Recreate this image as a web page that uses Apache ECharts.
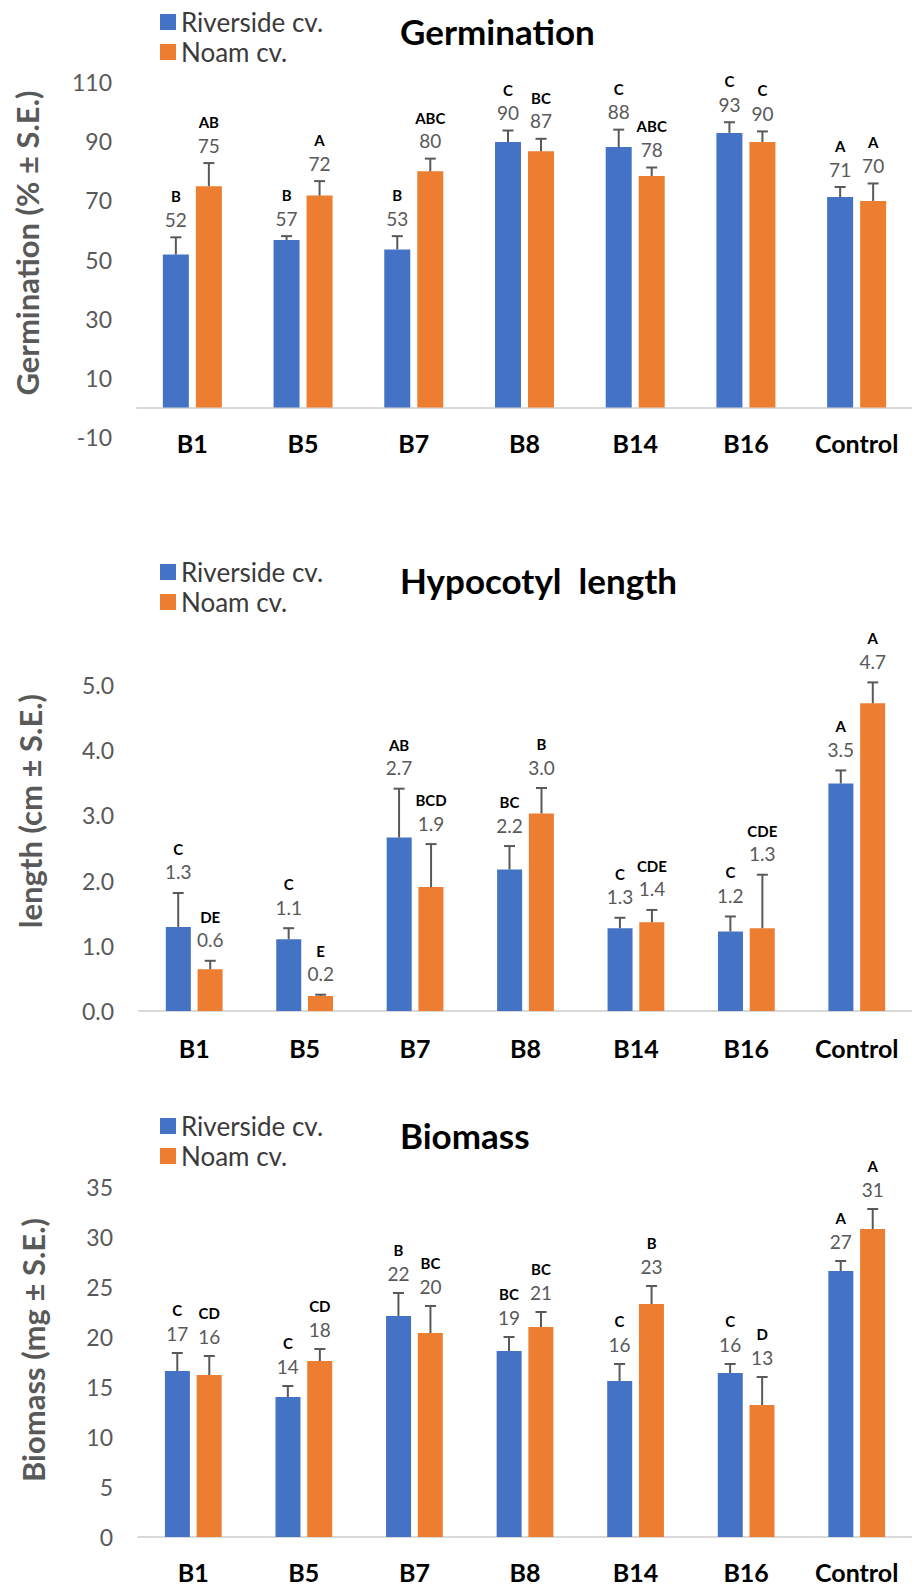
<!DOCTYPE html>
<html>
<head>
<meta charset="utf-8">
<script src="https://cdn.jsdelivr.net/npm/echarts@6/dist/echarts.min.js"></script>
<style>
html,body{margin:0;padding:0;background:#fff;}
#main{width:912px;height:1585px;}
</style>
</head>
<body>
<div id="main"></div>
<script>
// ---- data ----
var categories = ['B1','B5','B7','B8','B14','B16','Control'];
var seriesNames = ['Riverside cv.','Noam cv.'];

// Germination (%)
var germRiverside = [51.7, 56.6, 53.4, 89.7, 88.0, 92.8, 71.1];
var germNoam      = [74.8, 71.6, 79.8, 86.6, 78.2, 89.7, 69.8];
var germRiversideSE = [5.8, 1.3, 4.5, 3.9, 5.9, 3.6, 3.4];
var germNoamSE      = [7.8, 4.9, 4.3, 4.2, 2.9, 3.6, 5.9];
var germRiversideLetters = ['B','B','B','C','C','C','A'];
var germNoamLetters      = ['AB','A','ABC','BC','ABC','C','A'];
var germTicks = [-10, 10, 30, 50, 70, 90, 110];

// Hypocotyl length (cm)
var hypoRiverside = [1.29, 1.10, 2.66, 2.17, 1.27, 1.22, 3.49];
var hypoNoam      = [0.64, 0.23, 1.90, 3.03, 1.36, 1.27, 4.72];
var hypoRiversideSE = [0.52, 0.17, 0.75, 0.36, 0.16, 0.23, 0.20];
var hypoNoamSE      = [0.13, 0.02, 0.66, 0.39, 0.19, 0.82, 0.32];
var hypoRiversideLetters = ['C','C','AB','BC','C','C','A'];
var hypoNoamLetters      = ['DE','E','BCD','B','CDE','CDE','A'];
var hypoTicks = [0, 1, 2, 3, 4, 5];

// Biomass (mg)
var bioRiverside = [16.6, 14.0, 22.1, 18.6, 15.6, 16.4, 26.6];
var bioNoam      = [16.2, 17.6, 20.4, 21.0, 23.3, 13.2, 30.8];
var bioRiversideSE = [1.8, 1.1, 2.3, 1.4, 1.7, 0.9, 1.0];
var bioNoamSE      = [1.9, 1.2, 2.7, 1.5, 1.8, 2.8, 2.0];
var bioRiversideLetters = ['C','C','B','BC','C','C','A'];
var bioNoamLetters      = ['CD','CD','BC','BC','B','D','A'];
var bioTicks = [0, 5, 10, 15, 20, 25, 30, 35];

var titles = ['Germination', 'Hypocotyl  length', 'Biomass'];
var yNames = ['Germination (% \u00B1 S.E.)', 'length (cm \u00B1 S.E.)', 'Biomass (mg \u00B1 S.E.)'];

// ---- style ----
var FONT = 'Lato, "Open Sans", sans-serif';
var BLUE = '#4472C4', ORANGE = '#ED7D31';
var GRAY = '#595959';

var charts = [
  {r: germRiverside, n: germNoam, rse: germRiversideSE, nse: germNoamSE, rl: germRiversideLetters, nl: germNoamLetters, ticks: germTicks, dec: 0,
   grid: {left: 137, top: 82, width: 786, height: 355}, bw: 26, off: 16.5, lab: 18, xMargin: -7,
   legendTop: 9, titleTop: 13, yName: [27, 243]},
  {r: hypoRiverside, n: hypoNoam, rse: hypoRiversideSE, nse: hypoNoamSE, rl: hypoRiversideLetters, nl: hypoNoamLetters, ticks: hypoTicks, dec: 1,
   grid: {left: 139, top: 685, width: 787, height: 326}, bw: 25, off: 16, lab: 21, xMargin: 24,
   legendTop: 559, titleTop: 562, yName: [30, 811]},
  {r: bioRiverside, n: bioNoam, rse: bioRiversideSE, nse: bioNoamSE, rl: bioRiversideLetters, nl: bioNoamLetters, ticks: bioTicks, dec: 0,
   grid: {left: 138, top: 1187, width: 784, height: 350}, bw: 25, off: 16, lab: 20, xMargin: 22,
   legendTop: 1113, titleTop: 1117, yName: [33, 1350]}
];

function errSeries(ci, name, color, vals, ses, letters, dir, cfg) {
  return {
    type: 'custom', name: name, xAxisIndex: ci, yAxisIndex: ci, z: 5,
    itemStyle: {color: color},
    clip: false,
    data: vals.map(function (v, i) { return [i, v, ses[i]]; }),
    renderItem: function (params, api) {
      var i = api.value(0), v = api.value(1), e = api.value(2);
      var base = api.coord([i, v]);
      var top = api.coord([i, v + e]);
      var x = base[0] + dir * cfg.off;
      var numY = top[1] - cfg.lab;
      var letY = numY - 23;
      return {
        type: 'group',
        children: [
          {type: 'line', shape: {x1: x, y1: base[1], x2: x, y2: top[1]}, style: {stroke: GRAY, lineWidth: 2}},
          {type: 'line', shape: {x1: x - 5.5, y1: top[1], x2: x + 5.5, y2: top[1]}, style: {stroke: GRAY, lineWidth: 2}},
          {type: 'text', style: {text: v.toFixed(cfg.dec), x: x, y: numY, align: 'center', verticalAlign: 'middle',
            fontSize: 19, fontFamily: FONT, fill: GRAY}},
          {type: 'text', style: {text: letters[i], x: x, y: letY, align: 'center', verticalAlign: 'middle',
            fontSize: 15, fontWeight: 'bold', fontFamily: FONT, fill: '#000'}}
        ]
      };
    }
  };
}

var option = {
  animation: false,
  backgroundColor: '#fff',
  textStyle: {fontFamily: FONT},
  title: [], legend: [], grid: [], xAxis: [], yAxis: [], series: [], graphic: []
};

charts.forEach(function (cfg, ci) {
  var t = cfg.ticks;
  option.title.push({text: titles[ci], left: 400, top: cfg.titleTop, padding: 0,
    textStyle: {fontSize: 35, fontWeight: 'bold', color: '#000', fontFamily: FONT}});
  option.legend.push({data: seriesNames, orient: 'vertical', left: 160, top: cfg.legendTop, padding: 0,
    itemWidth: 16, itemHeight: 16, itemGap: 4, icon: 'rect',
    textStyle: {fontSize: 26, color: '#3a3a3a', fontFamily: FONT}});
  option.grid.push(cfg.grid);
  option.xAxis.push({type: 'category', gridIndex: ci, data: categories,
    axisLine: {onZero: true, lineStyle: {color: '#D9D9D9', width: 2}},
    axisTick: {show: false},
    axisLabel: {margin: cfg.xMargin, fontSize: 25, fontWeight: 'bold', color: '#000', fontFamily: FONT}});
  option.yAxis.push({type: 'value', gridIndex: ci, min: t[0], max: t[t.length - 1], interval: t[1] - t[0],
    axisLine: {show: false}, axisTick: {show: false}, splitLine: {show: false},
    axisLabel: {margin: 25, fontSize: 23, color: GRAY, fontFamily: FONT,
      formatter: function (v) { return v.toFixed(cfg.dec); }}});
  option.series.push({type: 'bar', name: seriesNames[0], xAxisIndex: ci, yAxisIndex: ci, data: cfg.r,
    barWidth: cfg.bw, barGap: '27%', itemStyle: {color: BLUE}});
  option.series.push({type: 'bar', name: seriesNames[1], xAxisIndex: ci, yAxisIndex: ci, data: cfg.n,
    barWidth: cfg.bw, barGap: '27%', itemStyle: {color: ORANGE}});
  option.series.push(errSeries(ci, seriesNames[0], BLUE, cfg.r, cfg.rse, cfg.rl, -1, cfg));
  option.series.push(errSeries(ci, seriesNames[1], ORANGE, cfg.n, cfg.nse, cfg.nl, 1, cfg));
  option.graphic.push({type: 'text', x: cfg.yName[0], y: cfg.yName[1], rotation: Math.PI / 2,
    style: {text: yNames[ci], align: 'center', verticalAlign: 'middle', fontSize: 31, fontWeight: 'bold',
      fill: GRAY, fontFamily: FONT}});
});

var chart = echarts.init(document.getElementById('main'), null, {renderer: 'svg', width: 912, height: 1585});
chart.setOption(option);
</script>
</body>
</html>
